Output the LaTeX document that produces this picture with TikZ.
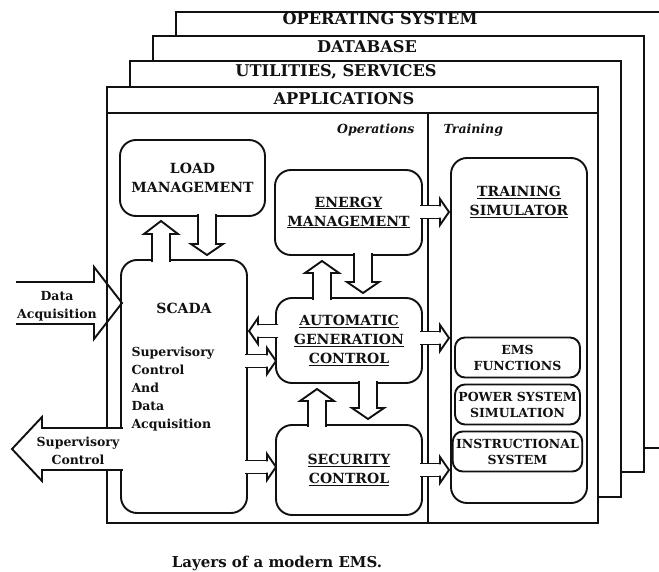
\documentclass[tikz,border=0pt]{standalone}
\usepackage{fontspec}
\setmainfont{DejaVu Serif}
\usetikzlibrary{positioning,calc}
\definecolor{ink}{HTML}{111111}
\newcommand\boxfont{\fontsize{14}{19}\selectfont\bfseries}
\newcommand\subfont{\fontsize{12.5}{16}\selectfont\bfseries}
\newcommand\txtfont{\fontsize{12.5}{18}\selectfont\bfseries}
\tikzset{
  layer/.style={draw=ink,fill=white,line width=1.8pt,outer sep=0pt,minimum width=491pt,minimum height=436pt,anchor=north west},
  frm/.style={draw=ink,line width=1.8pt},
  ttl/.style={font=\fontsize{16.2}{18}\selectfont\bfseries,text=ink},
  blk/.style={draw=ink,fill=white,line width=1.9pt,rounded corners=16pt,align=center,font=\boxfont,text=ink,outer sep=-1pt},
  subblk/.style={blk,rounded corners=10pt,font=\subfont,minimum width=125pt,minimum height=40pt},
  lab/.style={font=\txtfont,text=ink,align=center},
  barrow/.style={draw=ink,line width=1.9pt,line join=miter,line cap=rect},
  barrow fill/.style={fill=white},
  shaftline/.style={},
  dotshaft/.style={shaftline/.style={dash pattern=on 2.5pt off 1.8pt}},
}
% hollow block arrow: [opts]{from}{to}{gap}{half shaft}{half head}{head length}
\newcommand\blockarrow[7][]{%
  \begin{scope}[#1]
  \path let \p1=(#2), \p2=($(#3)!#4!(#2)$), \p3=($(\p2)!#7!(\p1)$) in
    ($(\p1)!#5!90:(\p2)$) coordinate (a1) ($(\p3)!#5!90:(\p2)$) coordinate (a2)
    ($(\p3)!#6!90:(\p2)$) coordinate (a3) (\p2) coordinate (a4)
    ($(\p3)!#6!-90:(\p2)$) coordinate (a5) ($(\p3)!#5!-90:(\p2)$) coordinate (a6)
    ($(\p1)!#5!-90:(\p2)$) coordinate (a7);
  \path[barrow fill] (a1)--(a2)--(a3)--(a4)--(a5)--(a6)--(a7)--cycle;
  \draw[barrow,shaftline] (a1)--(a2) (a6)--(a7);
  \draw[barrow] (a2)--(a3)--(a4)--(a5)--(a6);
  \end{scope}}

\begin{document}
\begin{tikzpicture}[x=1pt,y=-1pt]
\useasboundingbox (0,0) rectangle (659,572);
\clip (0,0) rectangle (659,572);

\node[layer] (os) at (176,12) {};
\node[layer] (db) at (153,36) {};
\node[layer] (util) at (130,61) {};
\node[layer] (apps) at (107,87) {};
\node[ttl] (osl) at (380,19) {OPERATING SYSTEM};
\node[ttl] (dbl) at (367,47) {DATABASE};
\node[ttl] (utill) at (336,72) {UTILITIES, SERVICES};
\node[ttl] (appsl) at (344,99) {APPLICATIONS};
\coordinate (band) at ([yshift=-26pt]apps.north west);
\draw[frm] (band) -- (band -| apps.east);
\draw[frm] (band -| 428,0) -- (apps.south -| 428,0);
\node[lab,font=\fontsize{12.5}{15}\selectfont\bfseries\itshape,anchor=east] (opl) at (418,130) {Operations};
\node[lab,font=\fontsize{12.5}{15}\selectfont\bfseries\itshape,anchor=west] (trl) at (440,130) {Training};

\node[blk,minimum width=145pt,minimum height=76pt] (load) at (192.5,178) {LOAD\\MANAGEMENT};
\node[blk,minimum width=147pt,minimum height=85pt] (energy) at (348.5,212.5) {\underline{ENERGY}\\\underline{MANAGEMENT}};
\node[blk,minimum width=126pt,minimum height=253pt] (scada) at (184,386.5) {};
\node[lab,font=\boxfont] (scadal) at (184,308) {SCADA};
\node[lab,align=left,anchor=north west] (scadat) at (128,343) {Supervisory\\Control\\And\\Data\\Acquisition};
\node[blk,minimum width=146pt,minimum height=85pt] (agc) at (349,340.5) {\underline{AUTOMATIC}\\\underline{GENERATION}\\\underline{CONTROL}};
\node[blk,minimum width=146pt,minimum height=90pt] (sec) at (349,470) {\underline{SECURITY}\\\underline{CONTROL}};
\node[blk,minimum width=136pt,minimum height=345pt] (train) at (519,330.5) {};
\node[lab,font=\boxfont,below=24pt of train.north] (trainl) {\underline{TRAINING}\\\underline{SIMULATOR}};
\node[subblk] (ems) at (517.5,357.5) {EMS\\FUNCTIONS};
\node[subblk,below=9pt of ems] (pss) {POWER SYSTEM\\SIMULATION};
\node[subblk,below=9pt of pss] (instr) {INSTRUCTIONAL\\SYSTEM};

\blockarrow{scada.north -| 161,0}{load.south -| 161,0}{6pt}{9pt}{17pt}{13pt}
\blockarrow{load.south -| 207,0}{scada.north -| 207,0}{6pt}{9pt}{16pt}{11pt}
\blockarrow{agc.north -| 322,0}{energy.south -| 322,0}{7pt}{9pt}{17pt}{12pt}
\blockarrow{energy.south -| 363,0}{agc.north -| 363,0}{6pt}{9pt}{16pt}{11pt}
\blockarrow{sec.north -| 317,0}{agc.south -| 317,0}{7pt}{9pt}{17pt}{12pt}
\blockarrow{agc.south -| 368,0}{sec.north -| 368,0}{7pt}{9pt}{16pt}{11pt}
\blockarrow{agc.west |- 0,331}{scada.east |- 0,331}{3pt}{6.5pt}{13pt}{9pt}
\blockarrow{scada.east |- 0,361}{agc.west |- 0,361}{1pt}{6.5pt}{13pt}{9pt}
\blockarrow{scada.east |- 0,467}{sec.west |- 0,467}{1pt}{6.5pt}{13pt}{9pt}
\blockarrow[dotshaft]{energy.east |- 0,212}{train.west |- 0,212}{3pt}{6.5pt}{13pt}{9pt}
\blockarrow[dotshaft]{agc.east |- 0,338}{train.west |- 0,338}{3pt}{6.5pt}{13pt}{9pt}
\blockarrow[dotshaft]{sec.east |- 0,470}{train.west |- 0,470}{3pt}{6.5pt}{13pt}{9pt}

\coordinate (dacq) at (17,303);
\blockarrow[barrow fill/.style={fill=none}]{dacq}{scada.west |- dacq}{0pt}{21pt}{36pt}{28pt}
\node[lab] (dacql) at (57,306) {Data\\Acquisition};
\coordinate (supc) at (12,449);
\blockarrow{scada.west |- supc}{supc}{0pt}{21pt}{32pt}{30pt}
\node[lab] (supcl) at (78,451) {Supervisory\\Control};

\node[font=\fontsize{15}{18}\selectfont\bfseries,text=ink] (cap) at (277,563) {Layers of a modern EMS.};
\end{tikzpicture}
\end{document}
